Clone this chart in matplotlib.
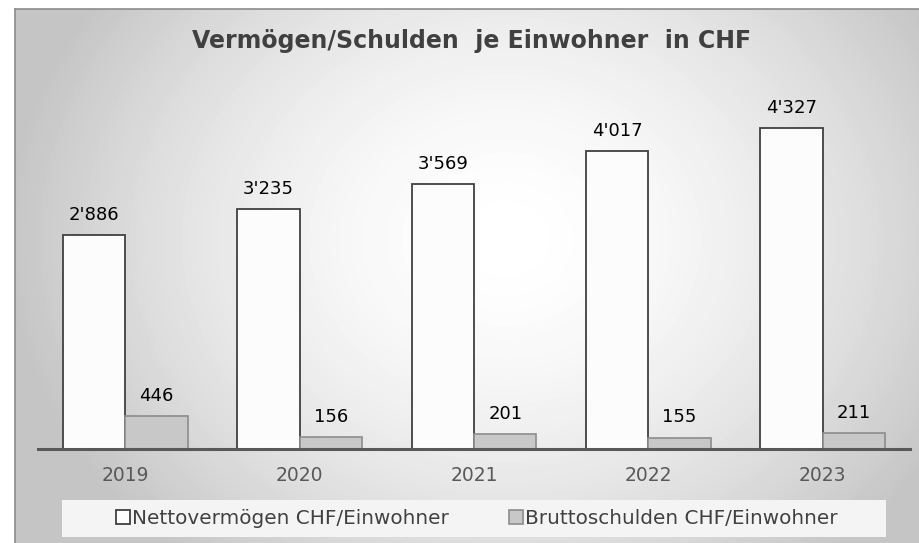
import matplotlib.pyplot as plt
import numpy as np
from matplotlib.patches import Rectangle

jahre = ['2019', '2020', '2021', '2022', '2023']
netto = [2886, 3235, 3569, 4017, 4327]
brutto = [446, 156, 201, 155, 211]
serien = ['Nettovermögen CHF/Einwohner', 'Bruttoschulden CHF/Einwohner']

def fmt(v):
    return f"{v:,}".replace(",", "'")

W, H = 920, 543
fig = plt.figure(figsize=(W / 100, H / 100), dpi=100)
fig.patch.set_facecolor('white')

# hintergrund: radialer verlauf im rahmen (pixelraster)
bw_px, bh_px = W - 15, H - 9
bg = fig.add_axes([15 / W, 0, bw_px / W, bh_px / H], zorder=-10)
yy, xx = np.mgrid[0:bh_px, 0:bw_px]
cx, cy = 490, 230
r = np.sqrt(((xx - cx) / 500.0) ** 2 + ((yy - cy) / 420.0) ** 2)
r = np.clip(r, 0, 1.0)
g = 1.0 - 0.23 * r ** 1.7
bg.imshow(g, cmap='gray', vmin=0, vmax=1, aspect='auto', interpolation='bilinear')
bg.set_xticks([])
bg.set_yticks([])
for s in ['right', 'bottom']:
    bg.spines[s].set_visible(False)
for s in ['left', 'top']:
    bg.spines[s].set_color('#8c8c8c')
    bg.spines[s].set_linewidth(1.2)

ax = fig.add_axes([38 / W, (H - 449) / H, 872 / W, 356 / H])
ax.patch.set_alpha(0)
x = np.arange(len(jahre))
bw = 62.5 / 174.5
b1 = ax.bar(x - bw / 2, netto, bw, color='#fcfcfc', edgecolor='#404040', linewidth=1.3,
            label=serien[0], zorder=3)
b2 = ax.bar(x + bw / 2, brutto, bw, color='#c8c8c8', edgecolor='#8c8c8c', linewidth=1.2,
            label=serien[1], zorder=3)
for bars, vals in [(b1, netto), (b2, brutto)]:
    for b, v in zip(bars, vals):
        ax.annotate(fmt(v), (b.get_x() + b.get_width() / 2, v), xytext=(0, 8),
                    textcoords='offset points', ha='center', va='bottom',
                    fontsize=13, color='black')

ax.set_xlim(-0.5, 4.5)
ax.set_ylim(0, 4800)
ax.set_yticks([])
ax.set_xticks(x)
ax.set_xticklabels(jahre, fontsize=13.5, color='#595959')
ax.tick_params(axis='x', length=0, pad=12)
for s in ['left', 'right', 'top']:
    ax.spines[s].set_visible(False)
ax.spines['bottom'].set_color('#595959')
ax.spines['bottom'].set_linewidth(2.2)
ax.spines['bottom'].set_zorder(4)

fig.text(0.5 + 12 / W, 1 - 41 / H, 'Vermögen/Schulden  je Einwohner  in CHF', ha='center',
         va='center', fontsize=17, fontweight='bold', color='#404040')

# legende
fig.patches.append(Rectangle((62 / W, 6 / H), 824 / W, 37 / H, transform=fig.transFigure,
                             facecolor='#f4f4f4', edgecolor='none', zorder=1))
leg = fig.legend(loc='center', bbox_to_anchor=(477 / W, 25 / H), ncol=2, frameon=False,
                 fontsize=14.4, handlelength=0.7, handleheight=0.7, handletextpad=0.1,
                 columnspacing=3.0, labelcolor='#404040')

fig.savefig('out.png', dpi=100)
